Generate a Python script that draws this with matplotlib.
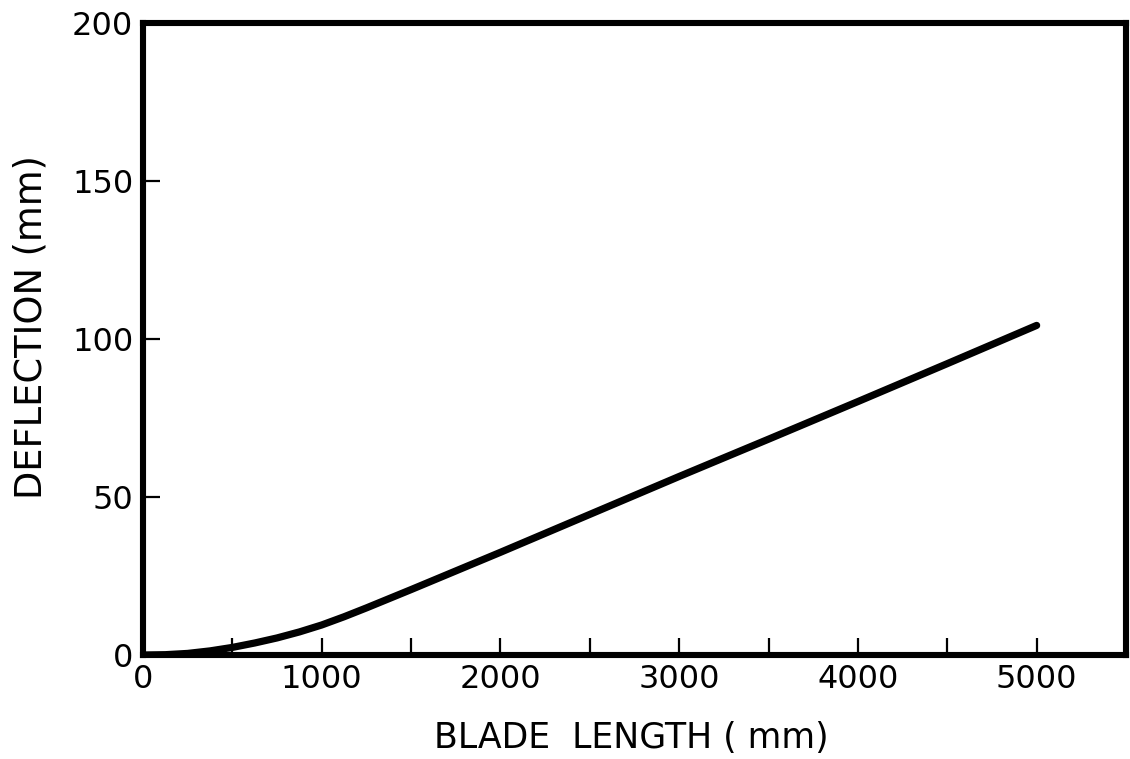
import matplotlib
matplotlib.use("Agg")
import matplotlib.pyplot as plt
import numpy as np

# blade length (mm) vs deflection (mm)
blade_length = [0, 125, 250, 375, 500, 625, 750, 875, 1000, 1125, 1250, 1500,
                2000, 2500, 3000, 3500, 4000, 4500, 5000]
deflection = [0, 0.1, 0.5, 1.3, 2.4, 3.8, 5.4, 7.3, 9.5, 12.1, 14.9, 20.7,
              32.5, 44.5, 56.5, 68.3, 80.2, 92.2, 104.3]

x_major = [0, 1000, 2000, 3000, 4000, 5000]
x_minor = [500, 1500, 2500, 3500, 4500]
y_major = [0, 50, 100, 150, 200]

plt.rcParams['font.family'] = ['DejaVu Sans']

fig = plt.figure(figsize=(11.3, 7.59), dpi=100)
ax = fig.add_axes([143 / 1130, 1 - 655 / 759, (1126 - 143) / 1130, (655 - 23) / 759])

ax.plot(blade_length, deflection, color='black', lw=5.2,
        solid_capstyle='round', solid_joinstyle='round')

ax.set_xlim(0, 5500)
ax.set_ylim(0, 200)
ax.set_xticks(x_major)
ax.set_xticks(x_minor, minor=True)
ax.set_yticks(y_major)

for s in ax.spines.values():
    s.set_linewidth(4.4)
    s.set_color('black')

ax.tick_params(axis='both', which='both', direction='in', length=12, width=1.6,
               color='black', labelsize=23)
ax.tick_params(axis='x', which='both', pad=6.5)
ax.tick_params(axis='y', which='both', pad=7)

ax.set_xlabel('BLADE  LENGTH ( mm)', fontsize=25)
ax.set_ylabel('DEFLECTION (mm)', fontsize=26.5)
ax.xaxis.set_label_coords(0.497, -0.105)
ax.yaxis.set_label_coords(-0.095, 0.519)

fig.savefig('out.png', dpi=100)
